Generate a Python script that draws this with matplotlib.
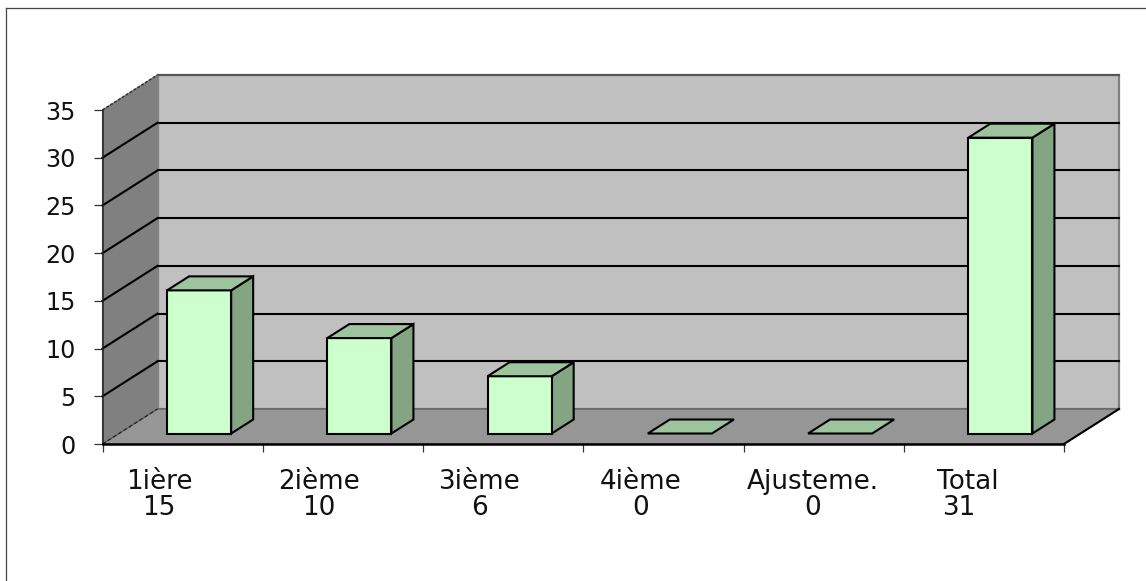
import matplotlib
matplotlib.use("Agg")
import matplotlib.pyplot as plt
from matplotlib.patches import Polygon
from matplotlib.lines import Line2D

categories = ["1ière", "2ième", "3ième", "4ième", "Ajusteme.", "Total"]
values = [15, 10, 6, 0, 0, 31]
value_labels = ["15", "10", "6", "0", "0", "31"]
y_ticks = [0, 5, 10, 15, 20, 25, 30, 35]

W, H = 1146, 581
plt.rcParams["font.family"] = "DejaVu Sans"
fig = plt.figure(figsize=(W / 100, H / 100), dpi=100, facecolor="white")

# plot frame (front plane)
L, R, T, B = 102.5, 1064, 110, 444
ax = fig.add_axes([L / W, 1 - B / H, (R - L) / W, (B - T) / H])
ax.set_xlim(0, len(categories))
ax.set_ylim(0, 35)
ax.patch.set_visible(False)

DX = 55 / ((R - L) / len(categories))   # depth shift, category units
DY = 35 / ((B - T) / 35)                # depth shift, value units


def P(x, v, d=0.0):
    return (x + DX * d, v + DY * d)


def poly(pts, fc, ec="black", lw=1.5, z=2):
    ax.add_patch(Polygon(pts, closed=True, facecolor=fc, edgecolor=ec, linewidth=lw,
                         joinstyle="miter", zorder=z, clip_on=False))


def line(p, q, c="black", lw=1.5, ls="-", z=3):
    ax.add_line(Line2D([p[0], q[0]], [p[1], q[1]], color=c, linewidth=lw, linestyle=ls,
                       zorder=z, clip_on=False))


n = len(categories)
top = y_ticks[-1]
# walls and floor
poly([P(0, 0, 1), P(n, 0, 1), P(n, top, 1), P(0, top, 1)], "#C0C0C0", "#808080", 1.6, 1)
poly([P(0, 0), P(0, 0, 1), P(0, top, 1), P(0, top)], "#808080", "#808080", 0.8, 1)
poly([P(0, 0), P(n, 0), P(n, 0, 1), P(0, 0, 1)], "#969696", "#555555", 0.8, 1)

# gridlines
for v in y_ticks[1:-1]:
    line(P(0, v), P(0, v, 1))
    line(P(0, v, 1), P(n, v, 1))
line(P(0, top), P(0, top, 1), "#333333", 1.1, (0, (2, 1)))
line(P(0, top, 1), P(n, top, 1), "#555555", 1.5)
line(P(0, 0), P(0, 0, 1), "#222222", 0.9, (0, (3, 2)))
line(P(n, 0), P(n, 0, 1), "black", 1.5)

# bars
x0, x1, d0, d1 = 0.3, 0.7, 0.3, 0.7
for i, v in enumerate(values):
    a, b = i + x0, i + x1
    if v > 0:
        poly([P(b, 0, d0), P(b, 0, d1), P(b, v, d1), P(b, v, d0)], "#84A584", z=4)
        poly([P(a, 0, d0), P(b, 0, d0), P(b, v, d0), P(a, v, d0)], "#CCFFCC", z=5)
    poly([P(a, v, d0), P(b, v, d0), P(b, v, d1), P(a, v, d1)], "#9DC49D", z=5)

# axes
for s in ("top", "right"):
    ax.spines[s].set_visible(False)
ax.spines["left"].set(color="#222222", linewidth=1.1, zorder=6)
ax.spines["bottom"].set(color="black", linewidth=1.8, zorder=6)
ax.set_yticks(y_ticks)
ax.set_xticks(range(n + 1))
ax.set_xticklabels([])
ax.tick_params(axis="y", length=6.5, width=0.9, color="#333333", labelsize=17.2, pad=13,
               labelcolor="#111111")
ax.tick_params(axis="x", length=5.5, width=0.9, color="#333333")

# category labels: name over value
name_shift = [-0.145, -0.147, -0.15, -0.145, -0.066, -0.10]
val_shift = [-0.148, -0.148, -0.15, -0.145, -0.066, -0.155]
for i, (c, t) in enumerate(zip(categories, value_labels)):
    ax.annotate(c, xy=(i + 0.5 + name_shift[i], 0), xycoords="data", xytext=(0, -38 * 0.72),
                textcoords="offset points", ha="center", va="center", fontsize=18.9,
                color="#111111", annotation_clip=False)
    ax.annotate(t, xy=(i + 0.5 + val_shift[i], 0), xycoords="data", xytext=(0, -64 * 0.72),
                textcoords="offset points", ha="center", va="center", fontsize=18.9,
                color="#111111", annotation_clip=False)

# outer frame: top and left edges only
fig.add_artist(Line2D([6 / W, 6 / W], [0, 1 - 7.5 / H], color="#444444", linewidth=0.9))
fig.add_artist(Line2D([6 / W, 1], [1 - 7.5 / H, 1 - 7.5 / H], color="#444444", linewidth=0.9))

fig.savefig("out.png", dpi=100, facecolor="white")
